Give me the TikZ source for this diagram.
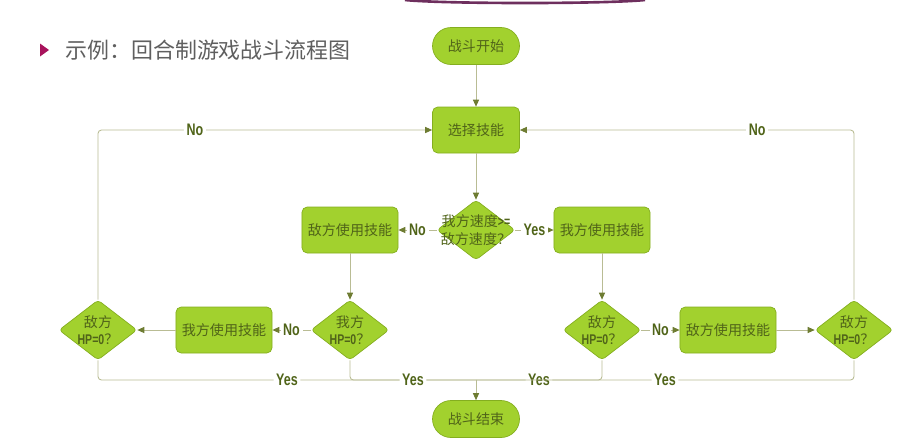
\documentclass[tikz,border=0pt]{standalone}
\usepackage{fontspec}
\setmainfont{Noto Sans CJK SC}
\newfontfamily\ynfont{Liberation Sans}[FakeStretch=0.75]
\usetikzlibrary{positioning,shapes.geometric,arrows.meta}

\definecolor{boxfill}{HTML}{A2D12E}
\definecolor{boxline}{HTML}{84AE1F}
\definecolor{boxtext}{HTML}{506419}
\definecolor{flowline}{HTML}{B9BC94}
\definecolor{tipcol}{HTML}{6E7C32}
\definecolor{titlegray}{HTML}{5F5F5F}
\definecolor{bulletred}{HTML}{A8135C}
\definecolor{arccol}{HTML}{6E2F5E}

\newcommand{\tightline}[1]{\makebox[0pt]{#1}}
\newcommand{\hpzero}{{\ynfont\bfseries HP=0}？}

\tikzset{
  action/.style={rectangle, rounded corners=3pt, draw=boxline, fill=boxfill,
    text=boxtext, minimum width=1.74cm, minimum height=0.92cm,
    font=\fontsize{8}{9.5}\selectfont},
  terminal/.style={action, rounded corners=0.37cm, minimum height=0.74cm},
  decision/.style={diamond, rounded corners=2pt, draw=boxline, fill=boxfill,
    text=boxtext, minimum width=1.56cm, minimum height=1.2cm, inner sep=0pt,
    align=center, font=\fontsize{8}{10}\selectfont},
  flow/.style={draw=flowline, line width=0.5pt,
    -{Triangle[length=4pt,width=3.5pt,color=tipcol]}},
  link/.style={draw=flowline, line width=0.5pt, rounded corners=2pt},
  yn/.style={fill=white, inner sep=1.5pt, text=boxtext,
    font=\ynfont\bfseries\fontsize{9.5}{10}\selectfont},
}

\begin{document}
\begin{tikzpicture}[node distance=2cm and 2.52cm, on grid]
  \useasboundingbox (0,0) rectangle (18.28,-8.88);

  % Slide decoration and title
  \draw[arccol, line width=1.5pt] (8.1,0) .. controls (8.9,-0.08) and (12.1,-0.08) .. (12.9,0);
  \fill[bulletred] (0.8,-0.87) -- (0.98,-1.0) -- (0.8,-1.13) -- cycle;
  \node[anchor=west, text=titlegray, font=\fontsize{12.5}{14}\selectfont] (title)
    at (1.18,-1.0) {示例：回合制游戏战斗流程图};

  % Nodes
  \node[terminal] (start) at (9.52,-0.92) {战斗开始};
  \node[action, below=1.68cm of start] (choose) {选择技能};
  \node[decision, below=of choose] (speed)
    {\tightline{我方速度{\ynfont\bfseries >=}}\\\tightline{敌方速度？}};
  \node[action, left=of speed] (foeuse) {敌方使用技能};
  \node[action, right=of speed] (meuse) {我方使用技能};
  \node[decision, below=of foeuse] (mehp) {\tightline{我方}\\\tightline{\hpzero}};
  \node[action, left=of mehp] (meuseL) {我方使用技能};
  \node[decision, left=of meuseL] (foehpL) {\tightline{敌方}\\\tightline{\hpzero}};
  \node[decision, below=of meuse] (foehp) {\tightline{敌方}\\\tightline{\hpzero}};
  \node[action, right=of foehp] (foeuseR) {敌方使用技能};
  \node[decision, right=of foeuseR] (foehpR) {\tightline{敌方}\\\tightline{\hpzero}};
  \node[terminal, below=3.78cm of speed] (finish) {战斗结束};
  \coordinate[above=0.78cm of finish] (join);

  % Edges
  \draw[flow] (start) -- (choose);
  \draw[flow] (choose) -- (speed);
  \draw[flow] (speed) -- node[yn] {No} (foeuse);
  \draw[flow] (speed) -- node[yn] {Yes} (meuse);
  \draw[flow] (foeuse) -- (mehp);
  \draw[flow] (meuse) -- (foehp);
  \draw[flow] (mehp) -- node[yn] {No} (meuseL);
  \draw[flow] (meuseL) -- (foehpL);
  \draw[flow] (foehp) -- node[yn] {No} (foeuseR);
  \draw[flow] (foeuseR) -- (foehpR);
  \draw[flow, rounded corners=2pt] (foehpL) |- node[yn, pos=0.645] {No} (choose);
  \draw[flow, rounded corners=2pt] (foehpR) |- node[yn, pos=0.645] {No} (choose);
  \draw[link] (foehpL) |- node[yn, pos=0.75] {Yes} (join);
  \draw[link] (mehp) |- node[yn, pos=0.75] {Yes} (join);
  \draw[link] (foehp) |- node[yn, pos=0.75] {Yes} (join);
  \draw[link] (foehpR) |- node[yn, pos=0.75] {Yes} (join);
  \draw[flow] (join) -- (finish);
\end{tikzpicture}
\end{document}
